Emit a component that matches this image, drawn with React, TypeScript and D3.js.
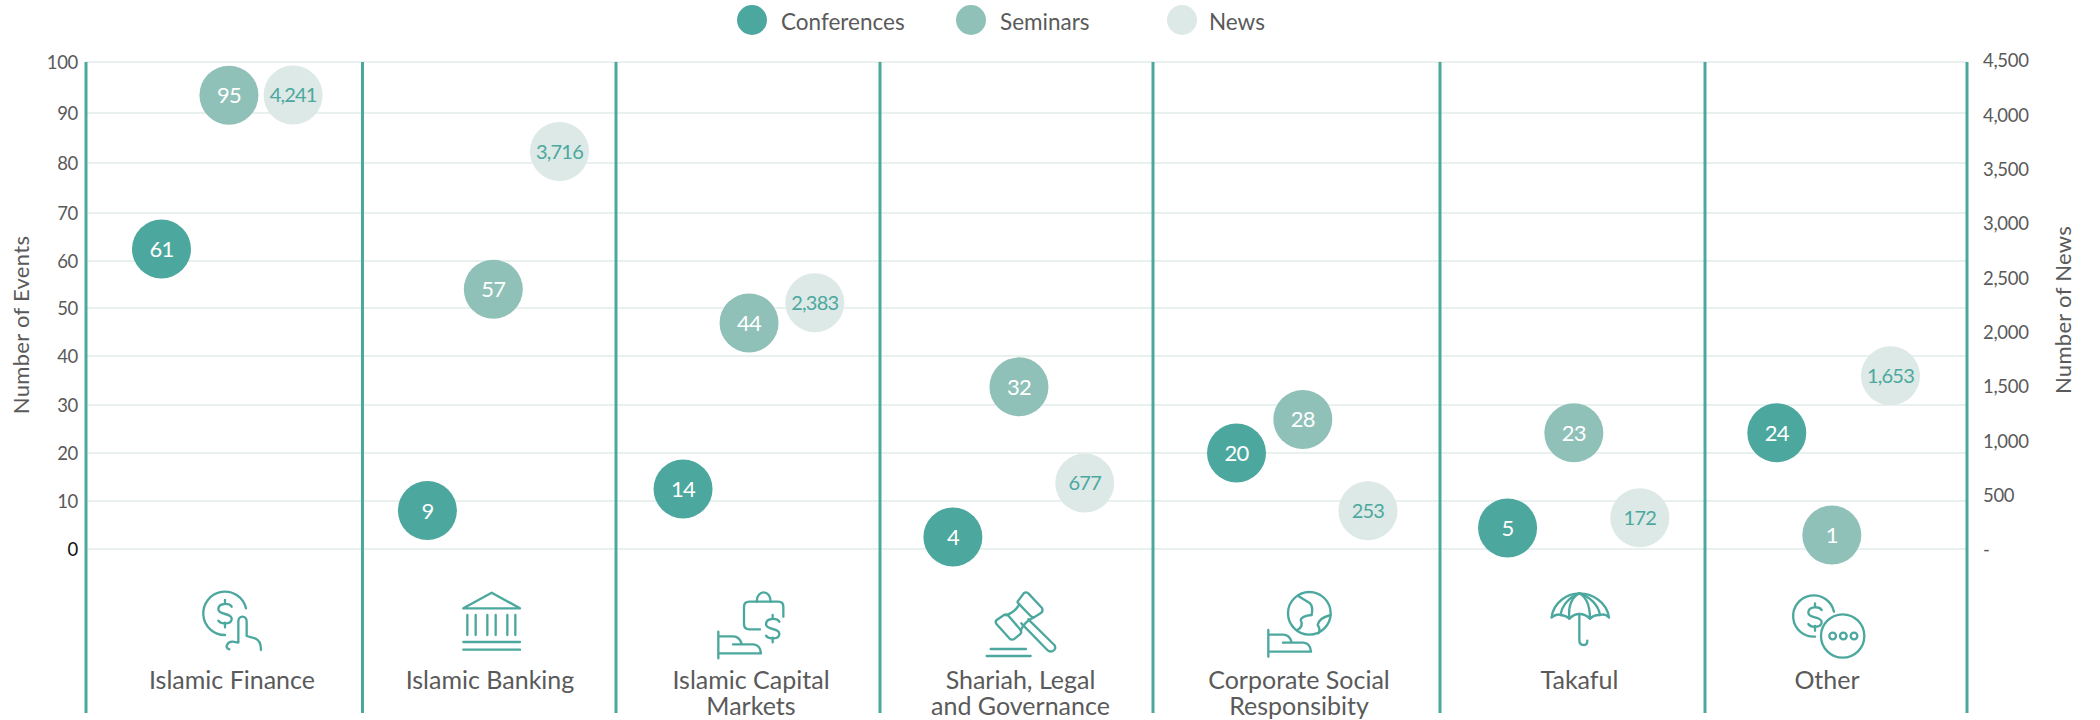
import React, { useEffect, useRef } from 'react';
import * as d3 from 'd3';

// values printed on the bubbles
const categories = [
  ['Islamic Finance'],
  ['Islamic Banking'],
  ['Islamic Capital', 'Markets'],
  ['Shariah, Legal', 'and Governance'],
  ['Corporate Social', 'Responsibity'],
  ['Takaful'],
  ['Other'],
];
const conferences = [61, 9, 14, 4, 20, 5, 24];
const seminars = [95, 57, 44, 32, 28, 23, 1];
const news = [4241, 3716, 2383, 677, 253, 172, 1653];

// where the bubbles sit on their axis (they do not follow the printed value exactly)
const conferencesLevel = [62.5, 8, 12.5, 2.5, 20, 4.4, 24.2];
const seminarsLevel = [93.5, 54, 46.9, 33.7, 27, 24.2, 2.9];
const newsLevel = [4177, 3659, 2266, 607, 352, 288, 1594];

// horizontal place of each bubble inside its column, 0 = left rule, 1 = right rule
const conferencesSlot = [0.273, 0.256, 0.254, 0.267, 0.291, 0.255, 0.274];
const seminarsSlot = [0.517, 0.516, 0.504, 0.509, 0.522, 0.505, 0.484];
const newsSlot = [0.749, 0.777, 0.753, 0.75, 0.749, 0.754, 0.708];

const eventTicks = [0, 10, 20, 30, 40, 50, 60, 70, 80, 90, 100];
const newsTicks = [0, 500, 1000, 1500, 2000, 2500, 3000, 3500, 4000, 4500];

const legendItems = ['Conferences', 'Seminars', 'News'];

const TEAL = '#4ca89e';
const MID = '#90c1b9';
const PALE = '#dce9e6';
const TEXT = '#5a5a5a';
const GRID = '#e9f1ef';
const FONT = 'Lato, sans-serif';

const W = 2100;
const H = 720;
const ruleX = [86, 362.5, 616, 880, 1153, 1440, 1705, 1967];
const gridY = [549, 501, 453, 405, 356, 308, 261, 213, 163, 113, 62];
const labelCenter = [232, 490, 751, 1020.5, 1299, 1579.5, 1827];

// icons are traced in crop coordinates, 3 units to a pixel
const hand = (x: number, y: number) =>
  `M${x} ${y}V${y + 80}M${x} ${y + 14}H${x + 45}Q${x + 63} ${y + 14} ${x + 70} ${y + 36}M${x + 44} ${y + 38}H${x + 106}Q${x + 126} ${y + 40} ${x + 128} ${y + 65}H${x}`;
const dollar = (x: number, y: number) =>
  `M${x + 20} ${y - 20}C${x + 12} ${y - 32} ${x - 20} ${y - 32} ${x - 20} ${y - 12}C${x - 20} ${y + 6} ${x + 20} ${y - 2} ${x + 20} ${y + 16}C${x + 20} ${y + 34} ${x - 12} ${y + 34} ${x - 20} ${y + 22}M${x} ${y - 40}V${y - 28}M${x} ${y + 28}V${y + 42}`;

const icons = [
  {
    ox: 180,
    paths: [
      'M198 85A65 65 0 1 0 135 165',
      dollar(135, 100),
      'M148 208C132 204 142 184 158 185L175 188V125C175 105 200 105 200 125V168L225 175C240 180 243 195 243 210',
    ],
  },
  {
    ox: 180,
    paths: [
      'M850 85H1020L935 38Z',
      'M862 105V165M887 105V165M922 105V165M947 105V165M982 105V165M1006 105V165',
      'M850 186H1020M850 209H1020',
    ],
  },
  {
    ox: 700,
    paths: [
      'M180 148H148Q132 148 132 132V80Q132 65 148 65H235Q250 65 250 80V110',
      'M170 65C170 28 212 28 212 65',
      dollar(218, 145),
      hand(55, 155),
    ],
  },
  {
    ox: 700,
    paths: [
      'M955 62L972 39Q978 35 985 40L1026 84Q1030 92 1024 98L1005 110Q998 114 992 108L955 70Q950 66 955 62Z',
      'M912 105Q920 101 926 108L962 150Q966 158 960 163L944 176Q936 182 928 175L890 133Q884 125 890 120Z',
      'M958 72C950 90 935 100 918 106M1002 112C985 118 968 135 962 152',
      'M985 118L1063 195Q1070 205 1060 212Q1050 218 1042 210L964 130',
      'M872 207H978M860 228H992',
    ],
  },
  {
    ox: 1240,
    paths: [
      'M175 48L210 70Q220 80 215 105Q185 108 182 120Q192 140 172 150',
      'M272 105Q235 115 233 135Q243 150 235 160',
      hand(85, 150),
    ],
    circles: [[208, 100, 64]],
  },
  {
    ox: 1240,
    paths: [
      'M935 112C940 65 985 40 1018 40C1055 40 1100 65 1107 112',
      'M935 112Q950 100 962 105Q978 106 988 116Q1002 102 1018 102Q1036 102 1050 116Q1062 104 1080 105Q1095 100 1107 112',
      'M1018 40C990 55 985 85 988 116M1018 40C1045 55 1050 85 1050 116',
      'M962 105C965 75 990 50 1018 40M1080 105C1075 75 1050 50 1018 40',
      'M1018 102V180Q1018 195 1030 195Q1042 195 1042 182',
    ],
  },
  {
    ox: 1760,
    paths: ['M222 95A62 62 0 1 0 165 170', dollar(165, 110)],
    circles: [[248, 168, 65], [218, 168, 10], [250, 168, 10], [282, 168, 10]],
  },
];

export default function App() {
  const ref = useRef<SVGSVGElement>(null);

  useEffect(() => {
    const svg = d3.select(ref.current);
    svg.selectAll('*').remove();

    const x = d3.scaleLinear().domain(d3.range(ruleX.length)).range(ruleX);
    const yEvents = d3.scaleLinear().domain(eventTicks).range(gridY);
    const yNews = d3.scaleLinear().domain([0, 4500]).range([549, 60]);

    // gridlines
    svg.append('g')
      .selectAll('line')
      .data(eventTicks)
      .enter()
      .append('line')
      .attr('x1', ruleX[0])
      .attr('x2', ruleX[ruleX.length - 1])
      .attr('y1', (d) => yEvents(d))
      .attr('y2', (d) => yEvents(d))
      .attr('stroke', GRID)
      .attr('stroke-width', 2);

    // column rules
    svg.append('g')
      .selectAll('line')
      .data(ruleX)
      .enter()
      .append('line')
      .attr('x1', (d) => d)
      .attr('x2', (d) => d)
      .attr('y1', 62)
      .attr('y2', 713)
      .attr('stroke', TEAL)
      .attr('stroke-width', 3);

    // axes
    const left = svg.append('g')
      .attr('transform', 'translate(78,1)')
      .call(d3.axisLeft(yEvents).tickValues(eventTicks).tickSize(0).tickPadding(0));
    const right = svg.append('g')
      .attr('transform', 'translate(1983,1)')
      .call(
        d3.axisRight(yNews)
          .tickValues(newsTicks)
          .tickSize(0)
          .tickPadding(0)
          .tickFormat((d) => (d === 0 ? '-' : d3.format(',')(d as number)))
      );
    [left, right].forEach((axis) => {
      axis.select('.domain').remove();
      axis.selectAll('text')
        .attr('font-family', FONT)
        .attr('font-size', 18.5)
        .attr('letter-spacing', -0.3)
        .attr('fill', TEXT);
    });
    left.selectAll('text').filter((d) => d === 0).attr('fill', '#111');

    const title = (label: string, tx: number, ty: number) =>
      svg.append('text')
        .attr('transform', `translate(${tx},${ty}) rotate(-90)`)
        .attr('text-anchor', 'middle')
        .attr('dominant-baseline', 'middle')
        .attr('font-family', FONT)
        .attr('font-size', 22)
        .attr('letter-spacing', 0.3)
        .attr('fill', TEXT)
        .text(label);
    title('Number of Events', 23, 325);
    title('Number of News', 2065, 310);

    // bubbles
    const series = [
      { values: conferences, level: conferencesLevel, slot: conferencesSlot, y: yEvents, fill: TEAL, ink: '#fff', size: 22 },
      { values: seminars, level: seminarsLevel, slot: seminarsSlot, y: yEvents, fill: MID, ink: '#fff', size: 22 },
      { values: news, level: newsLevel, slot: newsSlot, y: yNews, fill: PALE, ink: TEAL, size: 20 },
    ];
    series.forEach((s) => {
      const g = svg.append('g')
        .selectAll('g')
        .data(s.values)
        .enter()
        .append('g')
        .attr('transform', (_, i) => `translate(${x(i + s.slot[i])},${s.y(s.level[i])})`);
      g.append('circle').attr('r', 29.5).attr('fill', s.fill);
      g.append('text')
        .attr('text-anchor', 'middle')
        .attr('dy', '0.36em')
        .attr('font-family', FONT)
        .attr('font-size', s.size)
        .attr('letter-spacing', -0.8)
        .attr('fill', s.ink)
        .text((d) => d3.format(',')(d));
    });

    // category icons
    icons.forEach((icon) => {
      const g = svg.append('g')
        .attr('transform', `translate(${icon.ox},580) scale(${1 / 3})`)
        .attr('fill', 'none')
        .attr('stroke', TEAL)
        .attr('stroke-width', 7)
        .attr('stroke-linecap', 'round')
        .attr('stroke-linejoin', 'round');
      icon.paths.forEach((d) => g.append('path').attr('d', d));
      (icon.circles || []).forEach(([cx, cy, r]) => {
        g.append('circle').attr('cx', cx).attr('cy', cy).attr('r', r);
      });
    });

    // category labels
    categories.forEach((lines, i) => {
      lines.forEach((line, j) => {
        svg.append('text')
          .attr('x', labelCenter[i])
          .attr('y', 680 + j * 26)
          .attr('dy', '0.34em')
          .attr('text-anchor', 'middle')
          .attr('font-family', FONT)
          .attr('font-size', 25)
          .attr('fill', TEXT)
          .text(line);
      });
    });

    // legend
    const legendCircleX = d3.scaleOrdinal<string, number>().domain(legendItems).range([752, 971, 1182]);
    const legendFill = d3.scaleOrdinal<string, string>().domain(legendItems).range([TEAL, MID, PALE]);
    const legendGap = d3.scaleOrdinal<string, number>().domain(legendItems).range([29, 29, 27]);
    legendItems.forEach((item) => {
      const cx = legendCircleX(item);
      svg.append('circle').attr('cx', cx).attr('cy', 20).attr('r', 15).attr('fill', legendFill(item));
      svg.append('text')
        .attr('x', cx + legendGap(item))
        .attr('y', 22)
        .attr('dy', '0.34em')
        .attr('font-family', FONT)
        .attr('font-size', 22.5)
        .attr('fill', TEXT)
        .text(item);
    });
  }, []);

  return <svg ref={ref} width={W} height={H} style={{ position: 'absolute', left: 0, top: 0, background: '#fff' }} />;
}
